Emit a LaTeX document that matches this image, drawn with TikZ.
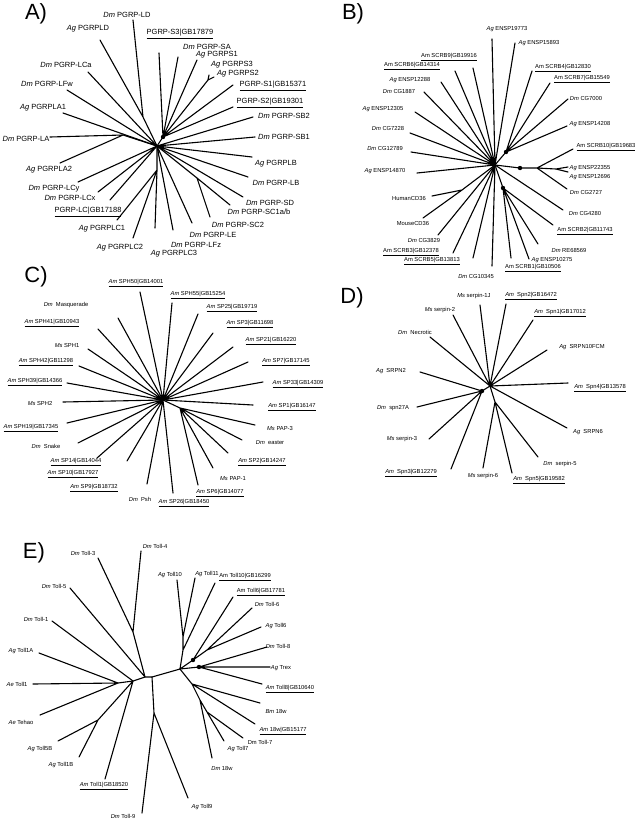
\documentclass[tikz,border=0pt]{standalone}
\usepackage{fontspec}
\setmainfont{Liberation Sans}
\newcommand{\spc}[1]{\textit{#1}}
\begin{document}
\begin{tikzpicture}[x=1pt,y=-1pt,
 br/.style={line width=1.1pt,line cap=round},
 la/.style={font=\fontsize{7.5}{8}\selectfont,inner sep=0pt},
 lb/.style={font=\fontsize{5.8}{6.5}\selectfont,inner sep=0pt},
 pan/.style={font=\fontsize{22}{24}\selectfont,inner sep=0pt},
 dotn/.style={circle,fill,inner sep=0pt,minimum size=4.4pt}]
\useasboundingbox (0,0) rectangle (640,820);
%================ A
\node[pan] (pA) at (36,14) {A)};
\coordinate (cA) at (157,146);
\coordinate (dA) at (163,137);
\coordinate (jLD) at (143,117);
\coordinate (jLA) at (123,135);
\coordinate (jS) at (208,80);
\coordinate (jSC) at (197,178);
\coordinate (jLC) at (157,170);
\coordinate (tLD) at (133,20);
\coordinate (tPLD) at (100,40);
\coordinate (tS3GB) at (159,53);
\coordinate (tSA) at (178,57);
\coordinate (tS1) at (197,60);
\coordinate (tS3) at (209,75);
\coordinate (tS2) at (214,77);
\coordinate (tS1GB) at (233,85);
\coordinate (tS2GB) at (233,107);
\coordinate (tSB2) at (253,117);
\coordinate (tSB1) at (255,137);
\coordinate (tLCa) at (88,72);
\coordinate (tLFw) at (67,90);
\coordinate (tLA1) at (63,113);
\coordinate (tLA) at (50,137);
\coordinate (tLA2) at (60,163);
\coordinate (tLCy) at (78,182);
\coordinate (tLCx) at (98,192);
\coordinate (tLCGB) at (110,200);
\coordinate (tLC1) at (117,220);
\coordinate (tLC2) at (133,238);
\coordinate (tLC3) at (155,228);
\coordinate (tLFz) at (173,230);
\coordinate (tLE) at (192,223);
\coordinate (tSC2) at (210,217);
\coordinate (tSC1) at (230,205);
\coordinate (tSD) at (243,197);
\coordinate (tLB) at (248,177);
\coordinate (tPLB) at (252,157);
\draw[br] (tLD) -- (jLD) -- (cA) (tPLD) -- (jLD);
\draw[br] (tLCa) -- (cA) (tLFw) -- (cA) (tLA1) -- (cA);
\draw[br] (tLA) -- (jLA) -- (cA) (tLA2) -- (jLA);
\draw[br] (tS3GB) -- (dA) (tSA) -- (dA) (tS1) -- (dA) (jS) -- (dA) (tS1GB) -- (dA) (tS2GB) -- (dA) (dA) -- (cA);
\draw[br] (tS3) -- (jS) (tS2) -- (jS);
\draw[br] (tSB2) -- (cA) (tSB1) -- (cA) (tPLB) -- (cA) (tLB) -- (cA) (tSD) -- (cA);
\draw[br] (tSC1) -- (jSC) (tSC2) -- (jSC) (jSC) -- (cA);
\draw[br] (tLE) -- (cA) (tLFz) -- (cA);
\draw[br] (tLC3) -- (jLC) (tLC2) -- (jLC) (tLC1) -- (jLC) (jLC) -- (cA);
\draw[br] (tLCGB) -- (cA) (tLCx) -- (cA) (tLCy) -- (cA);
\node[dotn] (ndA) at (dA) {};
\node[la] (lLD) at (127,15) {\spc{Dm} PGRP-LD};
\node[la] (lPLD) at (88,29) {\spc{Ag} PGRPLD};
\node[la] (lS3GB) at (180,34) {\underline{PGRP-S3|GB17879}};
\node[la] (lSA) at (207,47) {\spc{Dm} PGRP-SA};
\node[la] (lS1) at (217,55) {\spc{Ag} PGRPS1};
\node[la] (lS3) at (232,65) {\spc{Ag} PGRPS3};
\node[la] (lS2) at (238,74) {\spc{Ag} PGRPS2};
\node[la] (lS1GB) at (273,86) {\underline{PGRP-S1|GB15371}};
\node[la] (lS2GB) at (270,103) {\underline{PGRP-S2|GB19301}};
\node[la] (lSB2) at (284,116) {\spc{Dm} PGRP-SB2};
\node[la] (lSB1) at (284,137) {\spc{Dm} PGRP-SB1};
\node[la] (lLCa) at (66,65) {\spc{Dm} PGRP-LCa};
\node[la] (lLFw) at (47,84) {\spc{Dm} PGRP-LFw};
\node[la] (lLA1) at (43,108) {\spc{Ag} PGRPLA1};
\node[la] (lLA) at (26,139) {\spc{Dm} PGRP-LA};
\node[la] (lLA2) at (49,170) {\spc{Ag} PGRPLA2};
\node[la] (lLCy) at (54,189) {\spc{Dm} PGRP-LCy};
\node[la] (lLCx) at (70,198) {\spc{Dm} PGRP-LCx};
\node[la] (lLCGB) at (88,212) {\underline{PGRP-LC|GB17188}};
\node[la] (lLC1) at (102,229) {\spc{Ag} PGRPLC1};
\node[la] (lLC2) at (120,248) {\spc{Ag} PGRPLC2};
\node[la] (lLC3) at (174,254) {\spc{Ag} PGRPLC3};
\node[la] (lLFz) at (196,245) {\spc{Dm} PGRP-LFz};
\node[la] (lLE) at (213,235) {\spc{Dm} PGRP-LE};
\node[la] (lSC2) at (238,225) {\spc{Dm} PGRP-SC2};
\node[la] (lSC1) at (259,212) {\spc{Dm} PGRP-SC1a/b};
\node[la] (lSD) at (270,203) {\spc{Dm} PGRP-SD};
\node[la] (lLB) at (276,183) {\spc{Dm} PGRP-LB};
\node[la] (lPLB) at (276,164) {\spc{Ag} PGRPLB};
%================ B
\node[pan] (pB) at (353,14) {B)};
\coordinate (cB) at (495,165);
\coordinate (dB1) at (506,152);
\coordinate (dB2) at (520,168);
\coordinate (jB1) at (537,168);
\coordinate (jB2) at (556,169);
\coordinate (dB3) at (503,188);
\coordinate (jMH) at (462,190);
\coordinate (tE19773) at (492,39);
\coordinate (tE15893) at (515,43);
\coordinate (tSCRB9) at (473,68);
\coordinate (tSCRB6) at (455,71);
\coordinate (tE12288) at (441,82);
\coordinate (tCG1887) at (424,92);
\coordinate (tE12305) at (415,112);
\coordinate (tCG7228) at (410,133);
\coordinate (tCG12789) at (411,152);
\coordinate (tSCRB4) at (532,71);
\coordinate (tSCRB7) at (550,83);
\coordinate (tCG7000) at (568,99);
\coordinate (tE14208) at (567,126);
\coordinate (tSCRB10) at (573,149);
\coordinate (tE22355) at (568,167);
\coordinate (tE12696) at (568,172);
\coordinate (tCG2727) at (567,189);
\coordinate (tCG4280) at (563,210);
\coordinate (tSCRB2) at (553,225);
\coordinate (tRE) at (538,244);
\coordinate (tE10275) at (529,259);
\coordinate (tSCRB1) at (511,258);
\coordinate (tCG10345) at (492,266);
\coordinate (tSCRB5) at (473,258);
\coordinate (tSCRB3) at (453,253);
\coordinate (tCG3829) at (438,235);
\coordinate (tMouse) at (423,218);
\coordinate (tHuman) at (432,196);
\coordinate (tE14870) at (417,173);
\draw[br] (tE19773) -- (cB) (tE15893) -- (cB) (tSCRB9) -- (cB) (tSCRB6) -- (cB) (tE12288) -- (cB) (tCG1887) -- (cB) (tE12305) -- (cB) (tCG7228) -- (cB) (tCG12789) -- (cB);
\draw[br] (tSCRB4) -- (dB1) (tSCRB7) -- (dB1) (tCG7000) -- (dB1) (tE14208) -- (dB1) (dB1) -- (cB);
\draw[br] (cB) -- (dB2) -- (jB1) (jB1) -- (tSCRB10) (jB1) -- (jB2) (jB2) -- (tE22355) (jB2) -- (tE12696) (jB1) -- (tCG2727);
\draw[br] (tCG4280) -- (cB);
\draw[br] (cB) -- (dB3) (dB3) -- (tSCRB2) (dB3) -- (tRE) (dB3) -- (tE10275) (dB3) -- (tSCRB1);
\draw[br] (tCG10345) -- (cB) (tSCRB5) -- (cB) (tSCRB3) -- (cB) (tCG3829) -- (cB) (tE14870) -- (cB);
\draw[br] (tMouse) -- (jMH) (tHuman) -- (jMH) (jMH) -- (cB);
\node[dotn] (ndB1) at (dB1) {};
\node[dotn] (ndB2) at (dB2) {};
\node[dotn] (ndB3) at (dB3) {};
\node[lb] (lE19773) at (507,29) {\spc{Ag} ENSP19773};
\node[lb] (lE15893) at (539,43) {\spc{Ag} ENSP15893};
\node[lb] (lSCRB9) at (449,57) {\underline{Am SCRB9|GB19916}};
\node[lb] (lSCRB6) at (412,66) {\underline{Am SCRB6|GB14314}};
\node[lb] (lE12288) at (410,80) {\spc{Ag} ENSP12288};
\node[lb] (lCG1887) at (399,91) {\spc{Dm} CG1887};
\node[lb] (lE12305) at (383,109) {\spc{Ag} ENSP12305};
\node[lb] (lCG7228) at (388,128) {\spc{Dm} CG7228};
\node[lb] (lCG12789) at (385,148) {\spc{Dm} CG12789};
\node[lb] (lSCRB4) at (563,68) {\underline{Am SCRB4|GB12830}};
\node[lb] (lSCRB7) at (582,79) {\underline{Am SCRB7|GB15549}};
\node[lb] (lCG7000) at (586,98) {\spc{Dm} CG7000};
\node[lb] (lE14208) at (590,124) {\spc{Ag} ENSP14208};
\node[lb] (lSCRB10) at (606,147) {\underline{Am SCRB10|GB19683}};
\node[lb] (lE22355) at (590,168) {\spc{Ag} ENSP22355};
\node[lb] (lE12696) at (590,177) {\spc{Ag} ENSP12696};
\node[lb] (lCG2727) at (586,192) {\spc{Dm} CG2727};
\node[lb] (lCG4280) at (585,213) {\spc{Dm} CG4280};
\node[lb] (lSCRB2) at (585,231) {\underline{Am SCRB2|GB11743}};
\node[lb] (lRE) at (569,250) {\spc{Dm} RE68569};
\node[lb] (lE10275) at (552,260) {\spc{Ag} ENSP10275};
\node[lb] (lSCRB1) at (533,268) {\underline{Am SCRB1|GB10506}};
\node[lb] (lCG10345) at (476,276) {\spc{Dm} CG10345};
\node[lb] (lSCRB5) at (432,261) {\underline{Am SCRB5|GB13813}};
\node[lb] (lSCRB3) at (411,252) {\underline{Am SCRB3|GB12378}};
\node[lb] (lCG3829) at (424,240) {\spc{Dm} CG3829};
\node[lb] (lMouse) at (413,223) {MouseCD36};
\node[lb] (lHuman) at (409,198) {HumanCD36};
\node[lb] (lE14870) at (385,171) {\spc{Ag} ENSP14870};
%================ C
\node[pan] (pC) at (36,277) {C)};
\coordinate (cC) at (163,400);
\coordinate (jC1) at (180,408);
\coordinate (tSPH50) at (140,292);
\coordinate (tSPH55) at (172,303);
\coordinate (tMasq) at (118,318);
\coordinate (tSP25) at (198,314);
\coordinate (tSP3) at (213,333);
\coordinate (tSP21) at (233,347);
\coordinate (tSP7) at (248,362);
\coordinate (tSP33) at (263,382);
\coordinate (tSPH41) at (98,329);
\coordinate (tSPH1) at (88,349);
\coordinate (tSPH42) at (79,366);
\coordinate (tSPH39) at (67,383);
\coordinate (tSPH2) at (63,402);
\coordinate (tSP1) at (253,405);
\coordinate (tPAP3) at (255,425);
\coordinate (teaster) at (242,440);
\coordinate (tSP2) at (228,453);
\coordinate (tPAP1) at (213,468);
\coordinate (tSP6) at (198,485);
\coordinate (tSP26) at (173,493);
\coordinate (tPsh) at (147,484);
\coordinate (tSP9) at (127,461);
\coordinate (tSP14) at (97,458);
\coordinate (tSnake) at (78,443);
\coordinate (tSPH19) at (67,423);
\draw[br] (tSPH50) -- (cC) (tSPH55) -- (cC) (tMasq) -- (cC) (tSP25) -- (cC) (tSP3) -- (cC) (tSP21) -- (cC) (tSP7) -- (cC) (tSP33) -- (cC);
\draw[br] (tSPH41) -- (cC) (tSPH1) -- (cC) (tSPH42) -- (cC) (tSPH39) -- (cC) (tSPH2) -- (cC) (tSP1) -- (cC);
\draw[br] (cC) -- (jC1) (jC1) -- (tPAP3) (jC1) -- (teaster) (jC1) -- (tSP2) (jC1) -- (tPAP1) (jC1) -- (tSP6);
\draw[br] (tSP26) -- (cC) (tPsh) -- (cC) (tSP9) -- (cC) (tSP14) -- (cC) (tSnake) -- (cC) (tSPH19) -- (cC);
\node[lb] (lSPH50) at (136,283) {\underline{\spc{Am} SPH50|GB14001}};
\node[lb] (lSPH55) at (198,295) {\underline{\spc{Am} SPH55|GB15254}};
\node[lb] (lMasq) at (66,305) {\spc{Dm}\ \ Masquerade};
\node[lb] (lSP25) at (232,308) {\underline{\spc{Am} SP25|GB19719}};
\node[lb] (lSP3) at (250,324) {\underline{\spc{Am} SP3|GB11698}};
\node[lb] (lSP21) at (271,341) {\underline{\spc{Am} SP21|GB16220}};
\node[lb] (lSP7) at (286,362) {\underline{\spc{Am} SP7|GB17145}};
\node[lb] (lSP33) at (298,384) {\underline{\spc{Am} SP33|GB14309}};
\node[lb] (lSPH41) at (52,323) {\underline{\spc{Am} SPH41|GB10943}};
\node[lb] (lSPH1) at (67,345) {\spc{Ms} SPH1};
\node[lb] (lSPH42) at (46,362) {\underline{\spc{Am} SPH42|GB11298}};
\node[lb] (lSPH39) at (35,382) {\underline{\spc{Am} SPH39|GB14366}};
\node[lb] (lSPH2) at (40,403) {\spc{Ms} SPH2};
\node[lb] (lSP1) at (292,407) {\underline{\spc{Am} SP1|GB16147}};
\node[lb] (lPAP3) at (280,428) {\spc{Ms} PAP-3};
\node[lb] (leaster) at (270,443) {\spc{Dm}\ \ easter};
\node[lb] (lSP2) at (262,462) {\underline{\spc{Am} SP2|GB14247}};
\node[lb] (lPAP1) at (233,479) {\spc{Ms} PAP-1};
\node[lb] (lSP6) at (220,493) {\underline{\spc{Am} SP6|GB14077}};
\node[lb] (lSP26) at (184,503) {\underline{\spc{Am} SP26|GB18450}};
\node[lb] (lPsh) at (140,499) {\spc{Dm}\ \ Psh};
\node[lb] (lSP9) at (94,488) {\underline{\spc{Am} SP9|GB18732}};
\node[lb] (lSP10) at (73,474) {\underline{\spc{Am} SP10|GB17927}};
\node[lb] (lSP14) at (76,462) {\underline{\spc{Am} SP14|GB14044}};
\node[lb] (lSnake) at (46,446) {\spc{Dm}\ \ Snake};
\node[lb] (lSPH19) at (31,428) {\underline{\spc{Am} SPH19|GB17345}};
%================ D
\node[pan] (pD) at (352,298) {D)};
\coordinate (cD) at (490,386);
\coordinate (dD) at (482,391);
\coordinate (jD) at (495,402);
\coordinate (ts1J) at (480,305);
\coordinate (tSpn2) at (506,304);
\coordinate (ts2) at (453,315);
\coordinate (tSpn1) at (533,320);
\coordinate (tNec) at (430,337);
\coordinate (tSRPN10) at (547,350);
\coordinate (tSRPN2) at (420,372);
\coordinate (tSpn4) at (568,383);
\coordinate (tspn27A) at (417,407);
\coordinate (ts3) at (429,439);
\coordinate (tSpn3) at (451,469);
\coordinate (ts6) at (483,468);
\coordinate (tSpn5) at (512,473);
\coordinate (ts5) at (538,457);
\coordinate (tSRPN6) at (567,428);
\draw[br] (ts1J) -- (cD) (tSpn2) -- (cD) (ts2) -- (cD) (tSpn1) -- (cD) (tNec) -- (cD) (tSRPN10) -- (cD) (tSpn4) -- (cD) (tSRPN6) -- (cD);
\draw[br] (cD) -- (dD) (dD) -- (tSRPN2) (dD) -- (tspn27A) (dD) -- (ts3) (dD) -- (tSpn3);
\draw[br] (cD) -- (jD) (jD) -- (ts6) (jD) -- (tSpn5) (jD) -- (ts5);
\node[dotn] (ndD) at (dD) {};
\node[lb] (ls1J) at (474,296) {\spc{Ms} serpin-1J};
\node[lb] (lSpn2) at (531,296) {\underline{\spc{Am}\ \ Spn2|GB16472}};
\node[lb] (ls2) at (440,310) {\spc{Ms} serpin-2};
\node[lb] (lSpn1) at (560,313) {\underline{\spc{Am}\ \ Spn1|GB17012}};
\node[lb] (lNec) at (415,332) {\spc{Dm}\ \ Necrotic};
\node[lb] (lSRPN10) at (582,347) {\spc{Ag}\ \ SRPN10FCM};
\node[lb] (lSRPN2) at (391,371) {\spc{Ag}\ \ SRPN2};
\node[lb] (lSpn4) at (600,388) {\underline{\spc{Am}\ \ Spn4|GB13578}};
\node[lb] (lspn27A) at (393,408) {\spc{Dm}\ \ spn27A};
\node[lb] (ls3) at (402,439) {\spc{Ms} serpin-3};
\node[lb] (lSpn3) at (411,473) {\underline{\spc{Am}\ \ Spn3|GB12279}};
\node[lb] (ls6) at (483,476) {\spc{Ms} serpin-6};
\node[lb] (lSpn5) at (539,480) {\underline{\spc{Am}\ \ Spn5|GB19582}};
\node[lb] (ls5) at (560,464) {\spc{Dm}\ \ serpin-5};
\node[lb] (lSRPN6) at (588,432) {\spc{Ag}\ \ SRPN6};
%================ E
\node[pan] (pE) at (34,553) {E)};
\coordinate (b1) at (118,683);
\coordinate (b2) at (133,681);
\coordinate (b3) at (145,677);
\coordinate (b4) at (152,677);
\coordinate (b5) at (180,669);
\coordinate (g34) at (133,632);
\coordinate (g5) at (98,720);
\coordinate (g9) at (154,713);
\coordinate (eu1) at (183,650);
\coordinate (eu2) at (183,637);
\coordinate (d1) at (193,660);
\coordinate (eu3) at (207,650);
\coordinate (d2) at (199,667);
\coordinate (er1) at (192,684);
\coordinate (er2) at (200,700);
\coordinate (er3) at (207,712);
\coordinate (tT4) at (141,551);
\coordinate (tT3) at (98,558);
\coordinate (tT5) at (70,588);
\coordinate (tT1) at (52,621);
\coordinate (tT1A) at (39,653);
\coordinate (tAeT1) at (33,684);
\coordinate (tTeh) at (40,715);
\coordinate (tT5B) at (58,741);
\coordinate (tT1B) at (79,757);
\coordinate (tAmT1) at (105,779);
\coordinate (tDT9) at (142,813);
\coordinate (tAT9) at (188,798);
\coordinate (tD18) at (212,758);
\coordinate (tAT7) at (224,741);
\coordinate (tDT7) at (243,738);
\coordinate (tA18) at (255,724);
\coordinate (tB18) at (260,703);
\coordinate (tAmT8) at (262,684);
\coordinate (tTrex) at (270,667);
\coordinate (tDT8) at (267,647);
\coordinate (tAT6) at (261,627);
\coordinate (tDT6) at (252,608);
\coordinate (tAmT6) at (233,597);
\coordinate (tAmT10) at (215,583);
\coordinate (tAT11) at (195,578);
\coordinate (tAT10) at (177,580);
\draw[br] (b1) -- (b2) -- (b3) -- (b4) -- (b5);
\draw[br] (tT1A) -- (b1) (tAeT1) -- (b1) (tTeh) -- (b1);
\draw[br] (tT1) -- (b2) (tAmT1) -- (b2) (g5) -- (b2) (tT5B) -- (g5) (tT1B) -- (g5);
\draw[br] (tT5) -- (b3) (g34) -- (b3) (tT3) -- (g34) (tT4) -- (g34);
\draw[br] (g9) -- (b4) (tDT9) -- (g9) (tAT9) -- (g9);
\draw[br] (b5) -- (eu1) -- (eu2) (eu2) -- (tAT10) (eu2) -- (tAT11) (eu1) -- (tAmT10);
\draw[br] (b5) -- (d1) (d1) -- (tAmT6) (d1) -- (eu3) (eu3) -- (tDT6) (eu3) -- (tAT6);
\draw[br] (b5) -- (d2) (d2) -- (tTrex) (d2) -- (tDT8) (d2) -- (tAmT8);
\draw[br] (b5) -- (er1) (er1) -- (tB18) (er1) -- (tA18) (er1) -- (er2) (er2) -- (tD18) (er2) -- (er3) (er3) -- (tDT7) (er3) -- (tAT7);
\node[dotn] (nd1) at (d1) {};
\node[dotn] (nd2) at (d2) {};
\node[lb] (lT4) at (155,546) {\spc{Dm} Toll-4};
\node[lb] (lT3) at (83,553) {\spc{Dm} Toll-3};
\node[lb] (lT5) at (54,586) {\spc{Dm} Toll-5};
\node[lb] (lT1) at (36,619) {\spc{Dm} Toll-1};
\node[lb] (lT1A) at (21,651) {\spc{Ag} Toll1A};
\node[lb] (lAT10) at (170,575) {\spc{Ag} Toll10};
\node[lb] (lAT11) at (207,574) {\spc{Ag} Toll11};
\node[lb] (lAmT10) at (245,577) {\underline{Am Toll10|GB16299}};
\node[lb] (lAmT6) at (261,592) {\underline{Am Toll6|GB17781}};
\node[lb] (lDT6) at (267,604) {\spc{Dm} Toll-6};
\node[lb] (lAT6) at (276,626) {\spc{Ag} Toll6};
\node[lb] (lDT8) at (278,646) {\spc{Dm} Toll-8};
\node[lb] (lTrex) at (281,668) {\spc{Ag} Trex};
\node[lb] (lAmT8) at (290,689) {\underline{\spc{Am} Toll8|GB10640}};
\node[lb] (lB18) at (276,711) {\spc{Bm} 18w};
\node[lb] (lA18) at (283,731) {\underline{\spc{Am} 18w|GB15177}};
\node[lb] (lDT7) at (260,742) {Dm Toll-7};
\node[lb] (lAT7) at (238,749) {\spc{Ag} Toll7};
\node[lb] (lD18) at (222,768) {\spc{Dm} 18w};
\node[lb] (lAT9) at (202,807) {\spc{Ag} Toll9};
\node[lb] (lDT9) at (123,816) {\spc{Dm} Toll-9};
\node[lb] (lAmT1) at (104,786) {\underline{\spc{Am} Toll1|GB18520}};
\node[lb] (lT1B) at (61,765) {\spc{Ag} Toll1B};
\node[lb] (lT5B) at (40,749) {\spc{Ag} Toll5B};
\node[lb] (lTeh) at (21,722) {\spc{Ae} Tehao};
\node[lb] (lAeT1) at (17,684) {\spc{Ae} Toll1};
\end{tikzpicture}
\end{document}
